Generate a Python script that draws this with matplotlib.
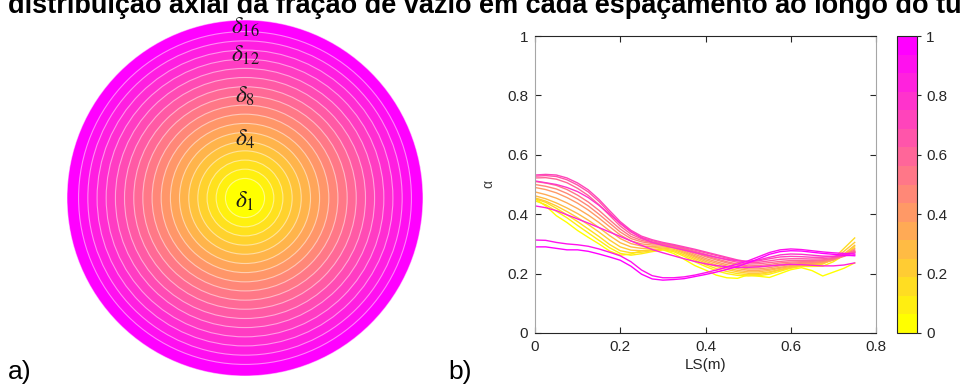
import numpy as np
import matplotlib
matplotlib.use("Agg")
import matplotlib.pyplot as plt
from matplotlib.patches import Circle

plt.rcParams["font.family"] = ["Liberation Sans", "DejaVu Sans"]
plt.rcParams["mathtext.fontset"] = "stix"

# posições axiais (m)
ls = [0.000, 0.025, 0.050, 0.075, 0.100, 0.125, 0.150, 0.175, 0.200, 0.225,
      0.250, 0.275, 0.300, 0.325, 0.350, 0.375, 0.400, 0.425, 0.450, 0.475,
      0.500, 0.525, 0.550, 0.575, 0.600, 0.625, 0.650, 0.675, 0.700, 0.725, 0.750]

# posição radial de cada espaçamento
r_d = [0.00, 0.07, 0.13, 0.20, 0.27, 0.33, 0.40, 0.47,
       0.53, 0.60, 0.67, 0.73, 0.80, 0.87, 0.93, 1.00]

# fração de vazio em cada espaçamento
alpha = [
    [0.452, 0.428, 0.395, 0.372, 0.345, 0.322, 0.300, 0.276, 0.262, 0.266, 0.277, 0.280, 0.280, 0.268, 0.248, 0.227,
     0.212, 0.195, 0.186, 0.184, 0.196, 0.191, 0.187, 0.200, 0.213, 0.220, 0.210, 0.192, 0.205, 0.218, 0.236],
    [0.445, 0.432, 0.410, 0.388, 0.362, 0.337, 0.312, 0.287, 0.268, 0.262, 0.267, 0.274, 0.280, 0.274, 0.258, 0.240,
     0.224, 0.210, 0.200, 0.194, 0.192, 0.193, 0.198, 0.208, 0.218, 0.224, 0.224, 0.225, 0.240, 0.262, 0.290],
    [0.452, 0.440, 0.420, 0.398, 0.375, 0.350, 0.325, 0.298, 0.277, 0.270, 0.272, 0.277, 0.283, 0.278, 0.263, 0.246,
     0.230, 0.217, 0.207, 0.200, 0.196, 0.197, 0.203, 0.212, 0.220, 0.226, 0.228, 0.232, 0.250, 0.285, 0.320],
    [0.455, 0.444, 0.428, 0.409, 0.388, 0.365, 0.340, 0.313, 0.290, 0.279, 0.277, 0.280, 0.286, 0.282, 0.268, 0.251,
     0.236, 0.224, 0.214, 0.206, 0.201, 0.201, 0.206, 0.214, 0.221, 0.227, 0.230, 0.234, 0.247, 0.275, 0.305],
    [0.462, 0.452, 0.438, 0.421, 0.402, 0.380, 0.355, 0.328, 0.304, 0.290, 0.285, 0.286, 0.290, 0.286, 0.272, 0.256,
     0.241, 0.229, 0.219, 0.211, 0.206, 0.206, 0.211, 0.218, 0.224, 0.229, 0.232, 0.236, 0.245, 0.266, 0.295],
    [0.475, 0.466, 0.454, 0.438, 0.419, 0.397, 0.372, 0.344, 0.318, 0.301, 0.293, 0.291, 0.294, 0.290, 0.276, 0.260,
     0.246, 0.235, 0.225, 0.217, 0.211, 0.211, 0.215, 0.221, 0.227, 0.231, 0.234, 0.238, 0.246, 0.262, 0.285],
    [0.490, 0.483, 0.472, 0.456, 0.437, 0.414, 0.387, 0.358, 0.330, 0.310, 0.300, 0.296, 0.298, 0.294, 0.280, 0.265,
     0.251, 0.240, 0.230, 0.222, 0.216, 0.216, 0.220, 0.226, 0.231, 0.234, 0.236, 0.240, 0.247, 0.260, 0.272],
    [0.500, 0.494, 0.485, 0.470, 0.451, 0.428, 0.400, 0.370, 0.340, 0.318, 0.307, 0.301, 0.300, 0.296, 0.284, 0.270,
     0.257, 0.246, 0.236, 0.228, 0.222, 0.222, 0.226, 0.231, 0.235, 0.237, 0.238, 0.241, 0.248, 0.258, 0.275],
    [0.510, 0.505, 0.497, 0.483, 0.464, 0.441, 0.413, 0.381, 0.350, 0.325, 0.312, 0.304, 0.298, 0.292, 0.282, 0.271,
     0.260, 0.250, 0.240, 0.232, 0.226, 0.227, 0.231, 0.236, 0.239, 0.240, 0.241, 0.244, 0.250, 0.262, 0.280],
    [0.522, 0.523, 0.518, 0.506, 0.487, 0.463, 0.432, 0.396, 0.360, 0.333, 0.317, 0.307, 0.300, 0.293, 0.284, 0.275,
     0.265, 0.255, 0.246, 0.238, 0.232, 0.233, 0.237, 0.241, 0.244, 0.244, 0.244, 0.246, 0.251, 0.260, 0.276],
    [0.528, 0.530, 0.527, 0.516, 0.498, 0.475, 0.443, 0.405, 0.368, 0.340, 0.322, 0.311, 0.302, 0.295, 0.287, 0.279,
     0.270, 0.261, 0.252, 0.244, 0.237, 0.238, 0.243, 0.248, 0.250, 0.250, 0.249, 0.250, 0.254, 0.262, 0.272],
    [0.532, 0.534, 0.532, 0.522, 0.505, 0.482, 0.450, 0.412, 0.375, 0.346, 0.326, 0.314, 0.305, 0.298, 0.290, 0.282,
     0.273, 0.264, 0.255, 0.246, 0.240, 0.243, 0.250, 0.256, 0.258, 0.257, 0.255, 0.255, 0.258, 0.264, 0.270],
    [0.512, 0.506, 0.500, 0.490, 0.476, 0.456, 0.430, 0.400, 0.370, 0.342, 0.320, 0.305, 0.295, 0.287, 0.279, 0.271,
     0.263, 0.255, 0.248, 0.243, 0.241, 0.246, 0.255, 0.263, 0.266, 0.265, 0.262, 0.259, 0.258, 0.260, 0.263],
    [0.428, 0.422, 0.412, 0.398, 0.384, 0.370, 0.355, 0.340, 0.325, 0.310, 0.295, 0.281, 0.270, 0.260, 0.250, 0.241,
     0.233, 0.227, 0.223, 0.221, 0.221, 0.223, 0.226, 0.229, 0.231, 0.230, 0.228, 0.226, 0.226, 0.229, 0.236],
    [0.313, 0.312, 0.305, 0.300, 0.297, 0.292, 0.283, 0.272, 0.260, 0.240, 0.212, 0.193, 0.186, 0.186, 0.189, 0.195,
     0.203, 0.212, 0.222, 0.232, 0.243, 0.257, 0.271, 0.280, 0.283, 0.281, 0.277, 0.273, 0.270, 0.268, 0.266],
    [0.290, 0.290, 0.285, 0.280, 0.280, 0.275, 0.266, 0.256, 0.245, 0.225, 0.198, 0.182, 0.178, 0.180, 0.183, 0.190,
     0.197, 0.205, 0.214, 0.224, 0.236, 0.250, 0.265, 0.274, 0.277, 0.276, 0.272, 0.268, 0.265, 0.262, 0.260],
]

# raios das fronteiras dos anéis (normalizados pelo raio do tubo)
ring_edges = [0.11, 0.162, 0.213, 0.265, 0.316, 0.368, 0.419, 0.471, 0.522,
              0.574, 0.625, 0.677, 0.728, 0.780, 0.831, 0.883, 0.935, 1.0]
delta_labels = [r"$\delta_1$", r"$\delta_4$", r"$\delta_8$", r"$\delta_{12}$", r"$\delta_{16}$"]
delta_y = [-0.02, 0.33, 0.57, 0.80, 0.96]

cbar_ticks = [0, 0.2, 0.4, 0.6, 0.8, 1]

cmap = plt.get_cmap("spring_r", 16)

fig = plt.figure(figsize=(9.6, 3.92), dpi=100)

# a) seção transversal com os anéis
ax0 = fig.add_axes([67 / 960, 16 / 392, 356 / 960, 356 / 392])
ax0.set_xlim(-1, 1)
ax0.set_ylim(-1, 1)
ax0.set_aspect("equal")
ax0.axis("off")
n_rings = len(ring_edges)
for i, r in enumerate(reversed(ring_edges)):
    frac = (n_rings - 1 - i) / (n_rings - 1)
    ax0.add_patch(Circle((0, 0), r, facecolor=plt.get_cmap("spring_r")(frac),
                         edgecolor=(1, 1, 1, 0.5), linewidth=0.8))
for lab, yy in zip(delta_labels, delta_y):
    ax0.text(0.0, yy, lab, ha="center", va="center", fontsize=17, color="#1a1a1a")

# b) fração de vazio ao longo do tubo
ax1 = fig.add_axes([535 / 960, 59 / 392, 341 / 960, 297 / 392])
for r, a in zip(r_d, alpha):
    ax1.plot(ls, a, color=cmap(r), linewidth=1.0)
ax1.set_xlim(0, 0.8)
ax1.set_ylim(0, 1)
ax1.set_xticks([0, 0.2, 0.4, 0.6, 0.8])
ax1.set_xticklabels(["0", "0.2", "0.4", "0.6", "0.8"])
ax1.set_yticks([0, 0.2, 0.4, 0.6, 0.8, 1])
ax1.set_yticklabels(["0", "0.2", "0.4", "0.6", "0.8", "1"])
ax1.tick_params(direction="in", top=True, right=True, length=4, labelsize=11,
                colors="#262626", pad=5)
for s in ["left", "right"]:
    ax1.spines[s].set_color("#a6a6a6")
for s in ["top", "bottom"]:
    ax1.spines[s].set_color("#262626")
ax1.set_xlabel("LS(m)", fontsize=11, color="#262626", labelpad=3)
ax1.set_ylabel("α", fontsize=10, color="#404040", labelpad=8)

# barra de cores r/D
cax = fig.add_axes([897 / 960, 59 / 392, 20 / 960, 297 / 392])
sm = matplotlib.cm.ScalarMappable(cmap=cmap, norm=matplotlib.colors.Normalize(0, 1))
cb = fig.colorbar(sm, cax=cax, ticks=cbar_ticks)
cb.ax.set_yticklabels(["0", "0.2", "0.4", "0.6", "0.8", "1"])
cb.ax.tick_params(labelsize=11, colors="#262626", length=3, direction="out")
cb.outline.set_edgecolor("#262626")
cb.set_label("r/D", fontsize=11, color="#262626", labelpad=10)

fig.text(8 / 960, 1 - 13 / 392,
         "distribuição axial da fração de vazio em cada espaçamento ao longo do tubo",
         fontsize=19.5, fontweight="bold", ha="left", va="baseline")
fig.text(8 / 960, 8 / 392, "a)", fontsize=19, ha="left", va="bottom")
fig.text(448 / 960, 8 / 392, "b)", fontsize=19, ha="left", va="bottom")

fig.savefig("out.png", dpi=100)
